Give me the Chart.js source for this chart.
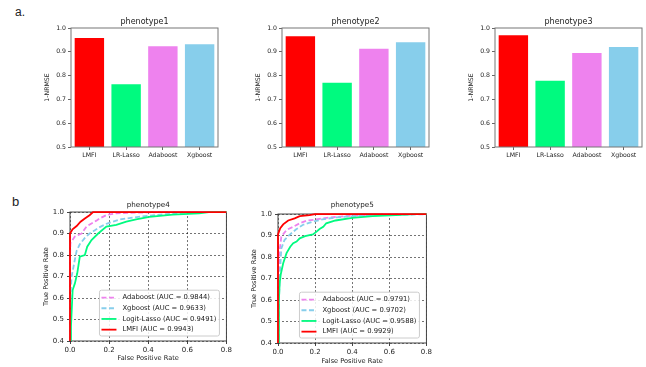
<!DOCTYPE html>
<html>
<head>
<meta charset="utf-8">
<script src="https://cdn.jsdelivr.net/npm/chart.js@4.4.0/dist/chart.umd.min.js"></script>
<style>
  body { margin: 0; background: #fff; width: 646px; height: 367px; position: relative; overflow: hidden; }
  .box { position: absolute; }
  .tag { position: absolute; font-family: "Liberation Sans", Arial, sans-serif; color: #222; }
</style>
</head>
<body>
<div class="tag" style="left:15px;top:5px;font-size:12px">a.</div>
<div class="tag" style="left:12px;top:194px;font-size:13px">b</div>
<div class="box" style="left:44px;top:14px;width:178px;height:147px"><canvas id="bar1"></canvas></div>
<div class="box" style="left:255px;top:14px;width:178px;height:147px"><canvas id="bar2"></canvas></div>
<div class="box" style="left:468px;top:14px;width:178px;height:147px"><canvas id="bar3"></canvas></div>
<div class="box" style="left:40px;top:196px;width:194px;height:171px"><canvas id="roc4"></canvas></div>
<div class="box" style="left:248px;top:196px;width:186px;height:171px"><canvas id="roc5"></canvas></div>
<script>
// bar charts (1-NRMSE)
const methods = ['LMFI', 'LR-Lasso', 'Adaboost', 'Xgboost']
const pheno1 = [0.958, 0.764, 0.923, 0.932]
const pheno2 = [0.965, 0.770, 0.913, 0.940]
const pheno3 = [0.970, 0.778, 0.895, 0.920]
const barColors = ['#ff0000', '#00fa7f', '#ee82ee', '#87ceeb']

// ROC curves, legend order
const rocNames = ['Adaboost', 'Xgboost', 'Logit-Lasso', 'LMFI']
const p4Auc = [0.9844, 0.9633, 0.9491, 0.9943]
const p5Auc = [0.9791, 0.9702, 0.9588, 0.9929]

const p4AdaFpr = [0, 0, 0.002, 0.025, 0.059, 0.084, 0.11, 0.135, 0.152, 0.186, 0.236, 0.3, 0.46, 1]
const p4AdaTpr = [0, 0.78, 0.855, 0.886, 0.90, 0.932, 0.947, 0.96, 0.97, 0.986, 0.994, 0.996, 1.0, 1.0]
const p4XgbFpr = [0, 0.003, 0.008, 0.017, 0.025, 0.034, 0.05, 0.076, 0.1, 0.127, 0.152, 0.186, 0.22, 0.253, 0.29, 0.37, 0.49, 0.59, 0.66, 1]
const p4XgbTpr = [0, 0.62, 0.70, 0.74, 0.78, 0.82, 0.85, 0.88, 0.90, 0.915, 0.93, 0.945, 0.955, 0.965, 0.97, 0.98, 0.99, 0.997, 1.0, 1.0]
const p4LassoFpr = [0, 0.005, 0.0135, 0.025, 0.037, 0.05, 0.076, 0.088, 0.11, 0.144, 0.186, 0.237, 0.288, 0.338, 0.406, 0.525, 0.66, 0.71, 1]
const p4LassoTpr = [0, 0.467, 0.637, 0.668, 0.715, 0.792, 0.80, 0.839, 0.87, 0.90, 0.932, 0.94, 0.955, 0.966, 0.978, 0.988, 0.994, 1.0, 1.0]
const p4LmfiFpr = [0, 0, 0.013, 0.034, 0.054, 0.076, 0.1, 0.118, 0.17, 1]
const p4LmfiTpr = [0, 0.90, 0.92, 0.935, 0.955, 0.97, 0.985, 1.0, 1.0, 1.0]

const p5AdaFpr = [0, 0.003, 0.009, 0.018, 0.046, 0.082, 0.117, 0.153, 0.206, 0.277, 0.366, 0.46, 0.58, 1]
const p5AdaTpr = [0, 0.70, 0.833, 0.895, 0.926, 0.941, 0.957, 0.969, 0.975, 0.984, 0.99, 0.994, 1.0, 1.0]
const p5XgbFpr = [0, 0.002, 0.01, 0.018, 0.035, 0.062, 0.098, 0.133, 0.187, 0.24, 0.31, 0.4, 0.5, 0.6, 1]
const p5XgbTpr = [0, 0.52, 0.72, 0.84, 0.879, 0.903, 0.929, 0.949, 0.964, 0.975, 0.984, 0.99, 0.994, 0.997, 1.0]
const p5LassoFpr = [0, 0.005, 0.009, 0.015, 0.028, 0.046, 0.066, 0.082, 0.1, 0.117, 0.146, 0.188, 0.208, 0.224, 0.244, 0.26, 0.31, 0.4, 0.51, 0.635, 0.74, 1]
const p5LassoTpr = [0, 0.60, 0.68, 0.72, 0.771, 0.818, 0.848, 0.864, 0.872, 0.887, 0.897, 0.905, 0.918, 0.93, 0.941, 0.957, 0.97, 0.982, 0.99, 0.995, 1.0, 1.0]
const p5LmfiFpr = [0, 0, 0.012, 0.028, 0.055, 0.09, 0.117, 0.17, 0.2, 1]
const p5LmfiTpr = [0, 0.905, 0.934, 0.952, 0.97, 0.98, 0.99, 0.995, 1.0, 1.0]

const rocColors = ['#ee82ee', '#87ceeb', '#00fa7f', '#ff0000']
const rocDash = [[5, 2.5], [5, 2.5], [], []]

Chart.defaults.font.family = "'DejaVu Sans', sans-serif"
Chart.defaults.color = '#222'

// box round the plot, like matplotlib spines
const frame = {
    id: 'frame',
    beforeDatasetsDraw(chart, args, opts) {
        if (!opts.onTop) drawFrame(chart, opts.color)
    },
    afterDatasetsDraw(chart, args, opts) {
        if (opts.onTop) drawFrame(chart, opts.color)
    }
}

function drawFrame(chart, color) {
    const { ctx, chartArea: a } = chart
    ctx.save()
    ctx.strokeStyle = color || '#444'
    ctx.lineWidth = 1
    ctx.strokeRect(a.left, a.top, a.width, a.height)
    ctx.restore()
}

// legend drawn inside the plot, lower right
const insideLegend = {
    id: 'insideLegend',
    afterDatasetsDraw(chart) {
        const { ctx, chartArea: a } = chart
        const size = 6.8, rowH = 10.7, lineLen = 15
        const sets = chart.data.datasets
        ctx.save()
        ctx.font = size + "px 'DejaVu Sans', sans-serif"
        const textW = Math.max(...sets.map(d => ctx.measureText(d.label).width))
        const w = 2 + lineLen + 6 + textW + 3
        const h = sets.length * rowH + 3
        const x = a.right - 7 - w
        const y = a.bottom - 5 - h
        ctx.fillStyle = 'rgba(255,255,255,0.85)'
        ctx.strokeStyle = '#ccc'
        ctx.lineWidth = 1
        ctx.beginPath()
        ctx.roundRect(x, y, w, h, 2)
        ctx.fill()
        ctx.stroke()
        sets.forEach((d, i) => {
            const cy = y + 2 + rowH * (i + 0.5)
            ctx.strokeStyle = d.borderColor
            ctx.lineWidth = d.borderWidth
            ctx.setLineDash(d.borderDash)
            ctx.beginPath()
            ctx.moveTo(x + 2, cy)
            ctx.lineTo(x + 2 + lineLen, cy)
            ctx.stroke()
            ctx.setLineDash([])
            ctx.fillStyle = '#222'
            ctx.textBaseline = 'middle'
            ctx.fillText(d.label, x + 2 + lineLen + 6, cy)
        })
        ctx.restore()
    }
}

const barChart = function (id, title, values) {
    return new Chart(document.getElementById(id), {
        type: 'bar',
        data: {
            labels: methods,
            datasets: [{
                data: values,
                backgroundColor: barColors,
                barPercentage: 0.8,
                categoryPercentage: 1
            }]
        },
        options: {
            responsive: true,
            maintainAspectRatio: false,
            animation: false,
            layout: { padding: { left: 0, right: 4, top: 0, bottom: 0 } },
            plugins: {
                legend: { display: false },
                tooltip: { enabled: false },
                frame: { onTop: true, color: '#777' },
                title: {
                    display: true, text: title, fullSize: false,
                    font: { size: 8, weight: 'normal' }, color: '#222',
                    padding: { top: 3.2, bottom: 1.2 }
                }
            },
            scales: {
                x: {
                    grid: { drawOnChartArea: false, tickLength: 3, color: '#666', offset: false },
                    border: { display: false },
                    ticks: { font: { size: 6.2 }, padding: 2, maxRotation: 0, autoSkip: false },
                    afterFit: s => { s.height = 14 }
                },
                y: {
                    min: 0.5, max: 1.0,
                    ticks: { stepSize: 0.1, font: { size: 6.2 }, padding: 2, callback: v => v.toFixed(1) },
                    grid: { drawOnChartArea: false, tickLength: 3, color: '#666' },
                    border: { display: false },
                    title: { display: true, text: '1-NRMSE', font: { size: 6.2 }, padding: { top: 0, bottom: 0 } },
                    afterFit: s => { s.width = 27 }
                }
            }
        },
        plugins: [frame]
    })
}

const curve = (fpr, tpr) => fpr.map((x, i) => ({ x: x, y: tpr[i] }))

const rocChart = function (id, title, curves, auc, lay) {
    return new Chart(document.getElementById(id), {
        type: 'line',
        data: {
            datasets: curves.map((c, i) => ({
                label: rocNames[i] + ' (AUC = ' + auc[i].toFixed(4) + ')',
                data: c,
                borderColor: rocColors[i],
                borderWidth: 1.8,
                borderDash: rocDash[i],
                pointRadius: 0,
                tension: 0,
                order: 3 - i,
                clip: { left: 2, top: 2, right: 0, bottom: 0 }
            }))
        },
        options: {
            responsive: true,
            maintainAspectRatio: false,
            animation: false,
            layout: { padding: { left: 0, right: 6, top: 0, bottom: 0 } },
            plugins: {
                legend: { display: false },
                tooltip: { enabled: false },
                frame: { onTop: false, color: '#444' },
                title: {
                    display: true, text: title, fullSize: false,
                    font: { size: 7.2, weight: 'normal' }, color: '#222',
                    padding: { top: lay.titleTop, bottom: lay.titleBottom }
                }
            },
            scales: {
                x: {
                    type: 'linear', min: 0, max: 0.8,
                    ticks: { stepSize: 0.2, font: { size: 7 }, padding: 2, maxRotation: 0, callback: v => v.toFixed(1) },
                    grid: { color: 'rgba(0,0,0,0.55)', tickLength: 3, tickColor: '#444' },
                    border: { display: false, dash: [2, 2] },
                    title: { display: true, text: 'False Positive Rate', font: { size: 6.6 }, padding: { top: 0, bottom: lay.xTitleBottom } },
                    afterFit: s => { s.height = lay.xHeight }
                },
                y: {
                    min: 0.4, max: 1.0,
                    ticks: { stepSize: 0.1, font: { size: 7 }, padding: 3, callback: v => v.toFixed(1) },
                    grid: { color: 'rgba(0,0,0,0.55)', tickLength: 3, tickColor: '#444' },
                    border: { display: false, dash: [2, 2] },
                    title: { display: true, text: 'True Positive Rate', font: { size: 6.6 }, padding: { top: 2.5, bottom: 0 } },
                    afterFit: s => { s.width = 30 }
                }
            }
        },
        plugins: [frame, insideLegend]
    })
}

barChart('bar1', 'phenotype1', pheno1)
barChart('bar2', 'phenotype2', pheno2)
barChart('bar3', 'phenotype3', pheno3)

rocChart('roc4', 'phenotype4', [
    curve(p4AdaFpr, p4AdaTpr),
    curve(p4XgbFpr, p4XgbTpr),
    curve(p4LassoFpr, p4LassoTpr),
    curve(p4LmfiFpr, p4LmfiTpr)
], p4Auc, { titleTop: 4.7, titleBottom: 2.7, xHeight: 26, xTitleBottom: 4.5 })

rocChart('roc5', 'phenotype5', [
    curve(p5AdaFpr, p5AdaTpr),
    curve(p5XgbFpr, p5XgbTpr),
    curve(p5LassoFpr, p5LassoTpr),
    curve(p5LmfiFpr, p5LmfiTpr)
], p5Auc, { titleTop: 4.7, titleBottom: 4.7, xHeight: 24, xTitleBottom: 2 })
</script>
</body>
</html>
